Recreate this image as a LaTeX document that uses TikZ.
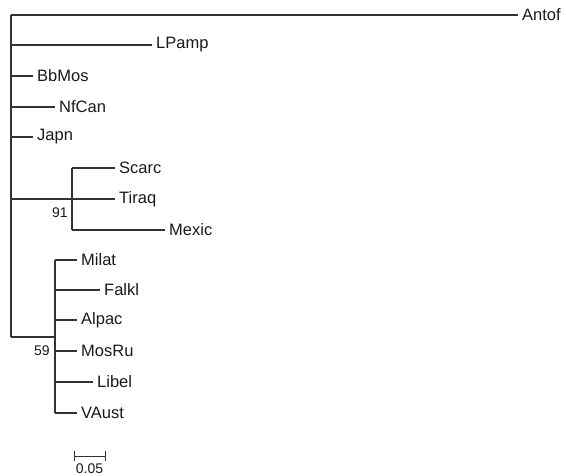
\documentclass[tikz,border=0pt]{standalone}
\usepackage{fontspec}
\setmainfont{Liberation Sans}
\begin{document}
\begin{tikzpicture}[x=1pt,y=-1pt,
  br/.style={line width=1.2pt,draw=black!80},
  leaf/.style={anchor=west,inner sep=0pt,font=\fontsize{16.5}{17}\selectfont,text=black!90},
  boot/.style={inner sep=0pt,font=\fontsize{14}{15}\selectfont,text=black!90}]
\useasboundingbox (0,0) rectangle (566,476);
% root
\coordinate (rtop) at (11,15);
\coordinate (rbot) at (11,337);
\draw[br] (rtop) -- (rbot);
% leaves on root
\node[leaf] (antof) at (522,15) {Antof};
\node[leaf] (lpamp) at (156,45) {LPamp};
\node[leaf] (bbmos) at (37,76) {BbMos};
\node[leaf] (nfcan) at (59,107) {NfCan};
\node[leaf] (japn) at (37,137) {Japn};
\coordinate (r1) at (11,45);
\coordinate (r2) at (11,76);
\coordinate (r3) at (11,107);
\coordinate (r4) at (11,137);
\draw[br] (rtop) -- ([xshift=-4pt]antof.west);
\draw[br] (r1) -- ([xshift=-4pt]lpamp.west);
\draw[br] (r2) -- ([xshift=-4pt]bbmos.west);
\draw[br] (r3) -- ([xshift=-4pt]nfcan.west);
\draw[br] (r4) -- ([xshift=-4pt]japn.west);
% clade 91
\coordinate (r5) at (11,199);
\coordinate (c91) at (72,199);
\coordinate (c91t) at (72,168);
\coordinate (c91b) at (72,230);
\draw[br] (r5) -- (c91);
\draw[br] (c91t) -- (c91b);
\node[leaf] (scarc) at (119,168) {Scarc};
\node[leaf] (tiraq) at (119,199) {Tiraq};
\node[leaf] (mexic) at (169,230) {Mexic};
\draw[br] (c91t) -- ([xshift=-4pt]scarc.west);
\draw[br] (c91) -- ([xshift=-4pt]tiraq.west);
\draw[br] (c91b) -- ([xshift=-4pt]mexic.west);
\node[boot] (b91) at (60,213) {91};
% clade 59
\coordinate (c59) at (55,337);
\coordinate (c59t) at (55,260);
\coordinate (c59b) at (55,413);
\draw[br] (rbot) -- (c59);
\draw[br] (c59t) -- (c59b);
\node[leaf] (milat) at (81,260) {Milat};
\node[leaf] (falkl) at (104,290) {Falkl};
\node[leaf] (alpac) at (81,320) {Alpac};
\node[leaf] (mosru) at (81,351) {MosRu};
\node[leaf] (libel) at (97,382) {Libel};
\node[leaf] (vaust) at (81,413) {VAust};
\coordinate (k2) at (55,290);
\coordinate (k3) at (55,320);
\coordinate (k4) at (55,351);
\coordinate (k5) at (55,382);
\draw[br] (c59t) -- ([xshift=-4pt]milat.west);
\draw[br] (k2) -- ([xshift=-4pt]falkl.west);
\draw[br] (k3) -- ([xshift=-4pt]alpac.west);
\draw[br] (k4) -- ([xshift=-4pt]mosru.west);
\draw[br] (k5) -- ([xshift=-4pt]libel.west);
\draw[br] (c59b) -- ([xshift=-4pt]vaust.west);
\node[boot] (b59) at (42,351) {59};
% scale bar
\coordinate (s1) at (74,456);
\coordinate (s2) at (105,456);
\draw[br,line width=1pt] (s1) -- (s2);
\draw[br,line width=1pt] ([yshift=-5pt]s1) -- ([yshift=5pt]s1);
\draw[br,line width=1pt] ([yshift=-5pt]s2) -- ([yshift=5pt]s2);
\node[boot] (sl) at (89.5,469) {0.05};
\end{tikzpicture}
\end{document}
